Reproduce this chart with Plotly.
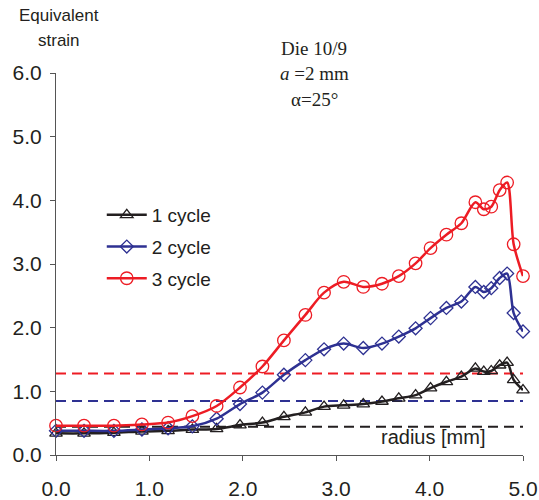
import plotly.graph_objects as go

radius = [0.0, 0.30, 0.62, 0.92, 1.20, 1.46, 1.72, 1.97, 2.21, 2.44, 2.67, 2.87, 3.08,
          3.29, 3.49, 3.67, 3.85, 4.01, 4.18, 4.34, 4.49, 4.58, 4.66, 4.75, 4.83, 4.90, 5.0]
cycle1 = [0.34, 0.34, 0.35, 0.37, 0.38, 0.40, 0.41, 0.47, 0.51, 0.60, 0.67, 0.76, 0.78,
          0.80, 0.84, 0.89, 0.94, 1.05, 1.15, 1.23, 1.36, 1.31, 1.32, 1.41, 1.45, 1.18, 1.02]
cycle2 = [0.38, 0.38, 0.38, 0.40, 0.42, 0.45, 0.57, 0.80, 0.98, 1.26, 1.49, 1.66, 1.75,
          1.68, 1.75, 1.86, 1.99, 2.15, 2.31, 2.41, 2.64, 2.56, 2.62, 2.78, 2.85, 2.23, 1.94]
cycle3 = [0.46, 0.46, 0.46, 0.48, 0.51, 0.61, 0.77, 1.06, 1.39, 1.80, 2.20, 2.55, 2.72,
          2.64, 2.69, 2.81, 3.01, 3.25, 3.46, 3.64, 3.97, 3.86, 3.90, 4.16, 4.28, 3.31, 2.81]
names = ["1 cycle", "2 cycle", "3 cycle"]
ref_levels = [0.445, 0.85, 1.28]
x_ticks = [0, 1, 2, 3, 4, 5]
y_ticks = [0, 1, 2, 3, 4, 5, 6]

BLACK = "#231F20"
BLUE = "#2E3192"
RED = "#ED1C24"
colors = [BLACK, BLUE, RED]
symbols = ["triangle-up-open", "diamond-open", "circle-open"]
msizes = [11, 10, 12.5]
SANS = "Liberation Sans, Arial, sans-serif"
SERIF = "Liberation Serif, Times New Roman, serif"

fig = go.Figure()
for i, ys in enumerate([cycle1, cycle2, cycle3]):
    fig.add_trace(go.Scatter(
        x=radius, y=ys, name=names[i], mode="lines+markers",
        line=dict(color=colors[i], width=2.5, shape="spline", smoothing=0.8),
        marker=dict(symbol=symbols[i], size=msizes[i], color=colors[i],
                    line=dict(width=1.3, color=colors[i])),
        cliponaxis=False, legendgroup=names[i],
    ))

for lvl, c in zip(ref_levels, colors):
    fig.add_shape(type="line", xref="x", yref="y", x0=0, x1=5.08, y0=lvl, y1=lvl,
                  line=dict(color=c, width=2, dash="10px,6px"), layer="below")

fig.update_layout(
    width=539, height=500,
    margin=dict(l=56, r=16, t=73, b=45, autoexpand=False),
    paper_bgcolor="white", plot_bgcolor="white",
    font=dict(family=SANS, color=BLACK),
    showlegend=True,
    legend=dict(x=0.098, y=0.678, xanchor="left", yanchor="top",
                font=dict(size=19, family=SANS, color=BLACK),
                bgcolor="rgba(0,0,0,0)", tracegroupgap=4, itemwidth=40),
    xaxis=dict(range=[0, 5], tickvals=x_ticks, ticktext=[f"{v:.1f}" for v in x_ticks],
               showgrid=False, zeroline=False, showline=True, linecolor="#555555",
               linewidth=1, ticks="outside", ticklen=5, tickcolor="#555555",
               tickfont=dict(size=21, family=SANS, color=BLACK), ticklabelstandoff=10,
               automargin=False),
    yaxis=dict(range=[0, 6], tickvals=y_ticks, ticktext=[f"{v:.1f}" for v in y_ticks],
               showgrid=False, zeroline=False, showline=True, linecolor="#555555",
               linewidth=1, ticks="outside", ticklen=5, tickcolor="#555555",
               tickfont=dict(size=21, family=SANS, color=BLACK), ticklabelstandoff=4,
               automargin=False),
)

ann = [
    dict(text="Equivalent", xpx=59, ypx=16, size=17, fam=SANS),
    dict(text="strain", xpx=59, ypx=41, size=17, fam=SANS),
    dict(text="Die 10/9", xpx=314, ypx=48, size=19, fam=SERIF),
    dict(text="<i>a</i> =2 mm", xpx=314, ypx=73, size=19, fam=SERIF),
    dict(text="α=25°", xpx=314, ypx=99, size=19, fam=SERIF),
    dict(text="radius [mm]", xpx=433, ypx=437, size=20, fam=SANS),
]
pw = 539 - 56 - 16
ph = 500 - 73 - 45
for a in ann:
    fig.add_annotation(
        x=(a["xpx"] - 56) / pw, y=(500 - 45 - a["ypx"]) / ph,
        xref="paper", yref="paper", text=a["text"], showarrow=False,
        xanchor="center", yanchor="middle",
        font=dict(size=a["size"], family=a["fam"], color=BLACK),
    )

fig.write_html("out.html")
